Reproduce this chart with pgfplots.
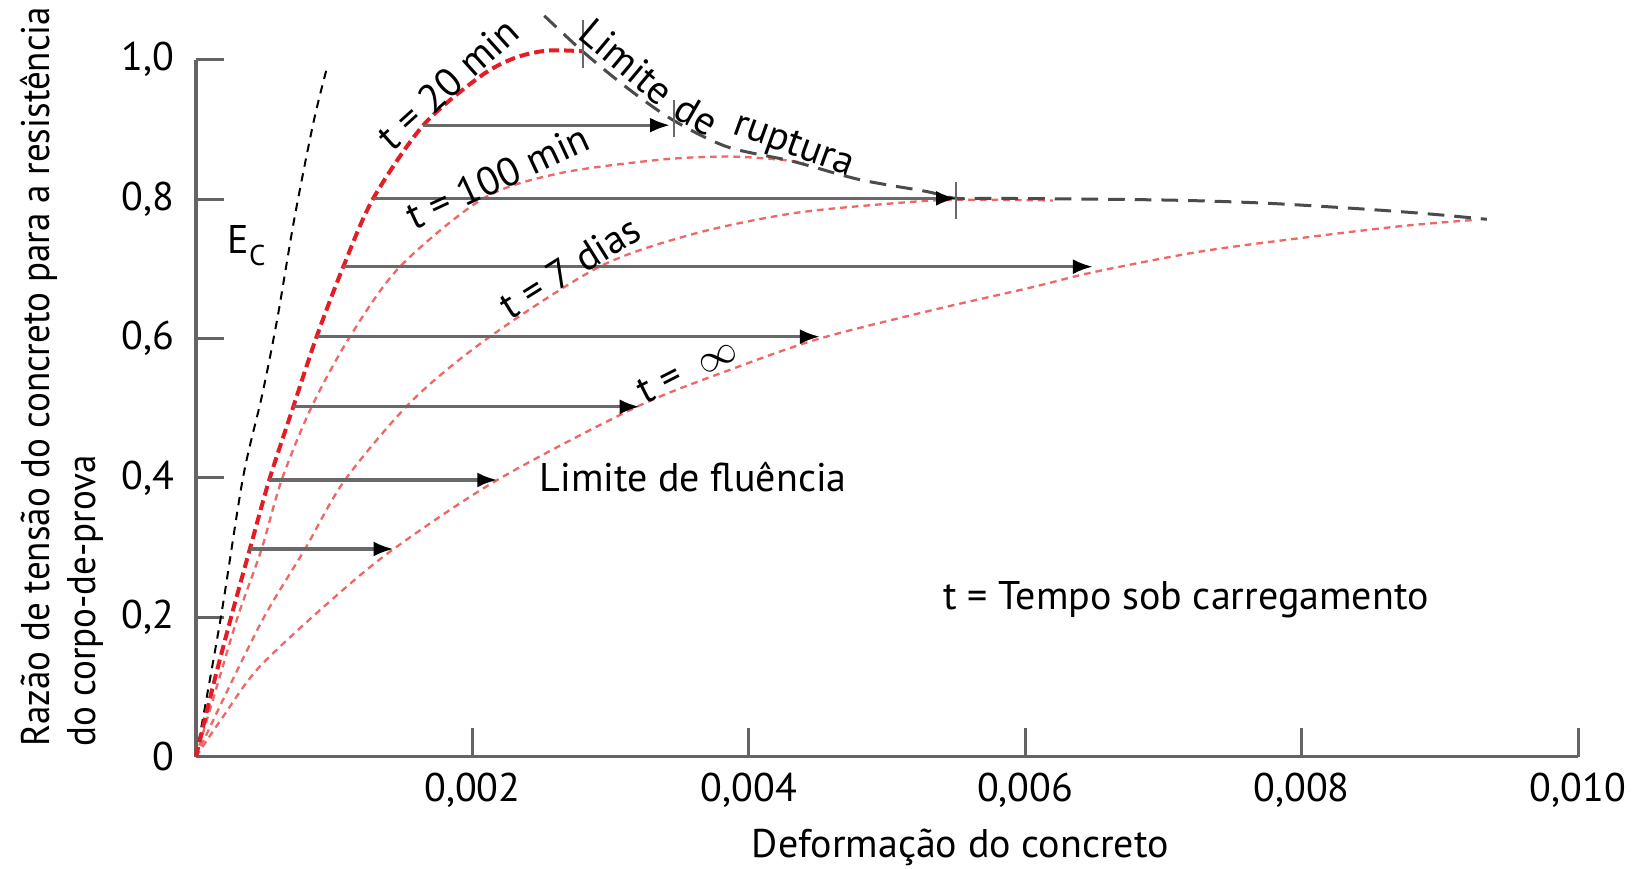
\documentclass[border=0pt]{standalone}
\usepackage{fontspec}
\setmainfont{PT Sans}
\newfontfamily\ylabfont[FakeStretch=0.925]{PT Sans}
\usepackage{pgfplots}
\pgfplotsset{compat=1.18}
\usetikzlibrary{arrows.meta}
\definecolor{redA}{RGB}{228,28,36}
\definecolor{redB}{RGB}{238,104,104}
\definecolor{axgray}{RGB}{100,100,100}
\definecolor{argray}{RGB}{105,105,105}
\definecolor{rupgray}{RGB}{75,75,75}
\begin{document}
\begin{tikzpicture}
\begin{axis}[
  scale only axis, width=414.6pt, height=209.1pt,
  xmin=0, xmax=0.01, ymin=0, ymax=1,
  scaled x ticks=false, scaled y ticks=false,
  axis lines*=left,
  axis line style={axgray, line width=1pt},
  tick align=inside, major tick length=8.5pt,
  tick style={axgray, line width=0.9pt},
  xtick={0.002,0.004,0.006,0.008,0.010},
  xticklabels={{0,002},{0,004},{0,006},{0,008},{0,010}},
  ytick={0,0.2,0.4,0.6,0.8,1},
  yticklabels={0,{0,2},{0,4},{0,6},{0,8},{1,0}},
  xticklabel style={yshift=-1.5pt},
  yticklabel style={xshift=-3pt},
  clip=false,
  font=\fontsize{12}{13.2}\selectfont,
  xlabel={Deformação do concreto},
  xlabel style={at={(axis description cs:0.553,-0.144)}, anchor=base},
  ylabel={Razão de tensão do concreto para a resistência\\do corpo-de-prova},
  ylabel style={at={(axis description cs:-0.097,0.014)}, anchor=west, align=left, inner sep=0pt, font=\ylabfont\fontsize{12}{13.6}\selectfont},
]
% E_c line
\addplot[black, line width=0.6pt, dash pattern=on 2.5pt off 2pt, smooth] coordinates {
 (0,0) (0.00018,0.2) (0.00034,0.4) (0.00048,0.52) (0.00059,0.63) (0.00071,0.77) (0.00085,0.91) (0.00095,0.99)};
% t = infinity
\addplot[redB, line width=0.7pt, dash pattern=on 2pt off 1.5pt, smooth] coordinates {
 (0,0) (0.000196,0.0574) (0.00046,0.129) (0.00098,0.2248) (0.00143,0.298) (0.00218,0.397) (0.00319,0.502)
 (0.00389,0.557) (0.004515,0.6) (0.005335,0.641) (0.00606,0.674) (0.00649,0.695) (0.00726,0.7245)
 (0.00799,0.744) (0.00871,0.761) (0.00924,0.770)};
% t = 7 dias
\addplot[redB, line width=0.7pt, dash pattern=on 2pt off 1.5pt, smooth] coordinates {
 (0,0) (0.00024,0.1) (0.0005,0.203) (0.000789,0.298) (0.001078,0.397) (0.00157,0.512) (0.002127,0.6026)
 (0.00292,0.703) (0.0036,0.75) (0.00432,0.7796) (0.00505,0.794) (0.0055,0.799) (0.0062,0.798)};
% t = 100 min
\addplot[redB, line width=0.7pt, dash pattern=on 2pt off 1.5pt, smooth] coordinates {
 (0,0) (0.00015,0.1) (0.000306,0.203) (0.000475,0.298) (0.00062,0.397) (0.000837,0.502) (0.001114,0.6026)
 (0.001476,0.703) (0.00208,0.801) (0.00263,0.837) (0.00336,0.8565) (0.00384,0.861) (0.0042,0.857) (0.0044,0.852)};
% t = 20 min
\addplot[redA, line width=1.2pt, dash pattern=on 3pt off 1.5pt, smooth] coordinates {
 (0,0) (0.000123,0.101) (0.000258,0.203) (0.00039,0.298) (0.00053,0.397) (0.000704,0.502) (0.000873,0.6026)
 (0.001066,0.703) (0.001283,0.801) (0.001645,0.906) (0.00205,0.975) (0.0023,1.002) (0.00254,1.013) (0.0028,1.012)};
% Limite de ruptura
\addplot[rupgray, line width=0.9pt, dash pattern=on 5pt off 3pt, smooth] coordinates {
 (0.00252,1.063) (0.0028,1.0115) (0.00312,0.9595) (0.00345,0.9135) (0.00384,0.8752) (0.00432,0.854)
 (0.0048,0.828) (0.00529,0.8107) (0.0055,0.801) (0.00582,0.801) (0.00702,0.7986) (0.00775,0.794)
 (0.00847,0.7854) (0.00895,0.7782) (0.00934,0.771)};
% ticks on the rupture limit
\addplot[argray, line width=0.5pt] coordinates {(0.0028,0.988) (0.0028,1.057)};
\addplot[argray, line width=0.5pt] coordinates {(0.00346,0.889) (0.00346,0.942)};
\addplot[argray, line width=0.5pt] coordinates {(0.0055,0.772) (0.0055,0.825)};
% creep arrows
\addplot[argray, line width=1pt, -{Latex[length=6pt,width=4.5pt,color=black]}] coordinates {(0.00039,0.298) (0.00143,0.298)};
\addplot[argray, line width=1pt, -{Latex[length=6pt,width=4.5pt,color=black]}] coordinates {(0.00053,0.397) (0.00218,0.397)};
\addplot[argray, line width=1pt, -{Latex[length=6pt,width=4.5pt,color=black]}] coordinates {(0.000704,0.502) (0.00321,0.502)};
\addplot[argray, line width=1pt, -{Latex[length=6pt,width=4.5pt,color=black]}] coordinates {(0.000873,0.6026) (0.004515,0.6026)};
\addplot[argray, line width=1pt, -{Latex[length=6pt,width=4.5pt,color=black]}] coordinates {(0.001066,0.703) (0.00649,0.703)};
\addplot[argray, line width=1pt, -{Latex[length=6pt,width=4.5pt,color=black]}] coordinates {(0.001283,0.801) (0.0055,0.801)};
\addplot[argray, line width=1pt, -{Latex[length=6pt,width=4.5pt,color=black]}] coordinates {(0.001645,0.906) (0.00343,0.906)};
% texts
\node[anchor=base west, inner sep=0pt] at (axis cs:0.000224,0.722) {E\raisebox{-3.6pt}{\fontsize{8.6}{10}\selectfont C}};
\node[rotate=42, inner sep=0pt] at (axis cs:0.001823,0.966) {t = 20 min};
\node[rotate=25, inner sep=0pt] at (axis cs:0.002185,0.832) {t = 100 min};
\node[rotate=32, inner sep=0pt] at (axis cs:0.002706,0.7025) {t = 7 dias};
\node[rotate=27, inner sep=0pt] at (axis cs:0.003553,0.5547) {t =\ \ $\infty$};
\node[rotate=-40, inner sep=0pt] at (axis cs:0.003117,0.9971) {Limite};
\node[rotate=-30, inner sep=0pt] at (axis cs:0.003623,0.9207) {de};
\node[rotate=-20, inner sep=0pt] at (axis cs:0.004322,0.8752) {ruptura};
\node[anchor=base west, inner sep=0pt] at (axis cs:0.002482,0.38) {Limite de fluência};
\node[anchor=base west, inner sep=0pt] at (axis cs:0.005405,0.2105) {t = Tempo sob carregamento};
\coordinate (bbl) at (axis cs:-0.001418,-0.1597);
\coordinate (btr) at (axis cs:0.010412,1.0856);
\end{axis}
\pgfresetboundingbox
\useasboundingbox (bbl) rectangle (btr);
\end{tikzpicture}
\end{document}
